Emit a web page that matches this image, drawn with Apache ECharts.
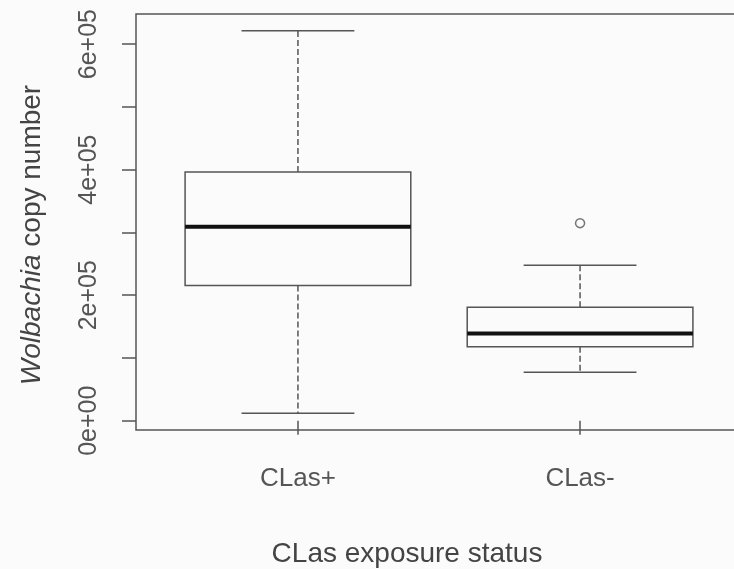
<!DOCTYPE html>
<html>
<head>
<meta charset="utf-8">
<script src="https://cdn.jsdelivr.net/npm/echarts@6/dist/echarts.min.js"></script>
<style>
  html, body { margin: 0; padding: 0; background: #fbfbfb; }
  #chart { width: 734px; height: 569px; }
</style>
</head>
<body>
<div id="chart"></div>
<script>
// groups and box statistics
var categories = ['CLas+', 'CLas-'];
var lowerWhisker = [11800, 77200];
var q1 = [215300, 118000];
var median = [308900, 138800];
var q3 = [396200, 180900];
var upperWhisker = [621500, 247800];
var outliers = [[], [314800]];
var yTicks = [0, 100000, 200000, 300000, 400000, 500000, 600000];
var yLabels = [0, 200000, 400000, 600000];

var boxData = categories.map(function (c, i) {
    return [i + 1, lowerWhisker[i], q1[i], median[i], q3[i], upperWhisker[i]];
});
var outlierData = [];
outliers.forEach(function (list, i) {
    list.forEach(function (v) { outlierData.push([i + 1, v]); });
});

function sci(v) {
    if (v === 0) return '0e+00';
    var e = Math.floor(Math.log10(Math.abs(v)));
    var m = Math.round(v / Math.pow(10, e));
    var ae = Math.abs(e);
    return m + 'e' + (e < 0 ? '-' : '+') + (ae < 10 ? '0' : '') + ae;
}

var gray = '#555';
var boxHalf = 0.4;     // boxwex 0.8
var stapleHalf = 0.2;

function renderBox(params, api) {
    var x = api.value(0);
    var lo = api.value(1), a = api.value(2), md = api.value(3), b = api.value(4), hi = api.value(5);
    function p(dx, y) { return api.coord([x + dx, y]); }
    var dash = { stroke: gray, lineWidth: 1.5, lineDash: [6, 3] };
    var solid = { stroke: gray, lineWidth: 1.5 };
    var tl = p(-boxHalf, b), br = p(boxHalf, a);
    return {
        type: 'group',
        children: [
            { type: 'line', shape: { x1: p(0, b)[0], y1: p(0, b)[1], x2: p(0, hi)[0], y2: p(0, hi)[1] }, style: dash },
            { type: 'line', shape: { x1: p(0, a)[0], y1: p(0, a)[1], x2: p(0, lo)[0], y2: p(0, lo)[1] }, style: dash },
            { type: 'line', shape: { x1: p(-stapleHalf, hi)[0], y1: p(0, hi)[1], x2: p(stapleHalf, hi)[0], y2: p(0, hi)[1] }, style: solid },
            { type: 'line', shape: { x1: p(-stapleHalf, lo)[0], y1: p(0, lo)[1], x2: p(stapleHalf, lo)[0], y2: p(0, lo)[1] }, style: solid },
            { type: 'rect', shape: { x: tl[0], y: tl[1], width: br[0] - tl[0], height: br[1] - tl[1] }, style: { fill: 'none', stroke: gray, lineWidth: 1.5 } },
            { type: 'line', shape: { x1: p(-boxHalf, md)[0], y1: p(0, md)[1], x2: p(boxHalf, md)[0], y2: p(0, md)[1] }, style: { stroke: '#111', lineWidth: 4 } }
        ]
    };
}

var chart = echarts.init(document.getElementById('chart'));
chart.setOption({
    backgroundColor: '#fbfbfb',
    animation: false,
    textStyle: { fontFamily: 'Liberation Sans, Arial, sans-serif' },
    grid: {
        left: 136, top: 14, width: 606, bottom: 139,
        outerBoundsMode: 'none',
        containLabel: false,
        show: true, borderColor: gray, borderWidth: 1.5, backgroundColor: 'transparent'
    },
    xAxis: {
        type: 'value',
        min: 0.426,
        max: 2.574,
        splitLine: { show: false },
        axisLine: { show: false },
        axisTick: { show: true, length: 14, customValues: [1, 2], lineStyle: { color: gray, width: 1.5 } },
        axisLabel: {
            customValues: [1, 2],
            margin: 36,
            fontSize: 26,
            color: '#555',
            formatter: function (v) { return categories[Math.round(v) - 1]; }
        },
        name: 'CLas exposure status',
        nameLocation: 'middle',
        nameGap: 110,
        nameTextStyle: { fontSize: 28, color: '#444', padding: [0, 64, 0, 0] }
    },
    yAxis: {
        type: 'value',
        min: -14800,
        max: 648000,
        splitLine: { show: false },
        axisLine: { show: false },
        axisTick: { show: true, length: 14, customValues: yTicks, lineStyle: { color: gray, width: 1.5 } },
        axisLabel: {
            customValues: yLabels,
            rotate: 90,
            margin: 34,
            fontSize: 25,
            color: '#555',
            formatter: sci
        },
        name: '{i|Wolbachia} copy number',
        nameLocation: 'middle',
        nameGap: 90,
        nameTextStyle: {
            fontSize: 28, color: '#444', padding: [0, 26, 0, 0],
            rich: { i: { fontSize: 28, color: '#444', fontStyle: 'italic' } }
        }
    },
    series: [
        {
            type: 'custom',
            renderItem: renderBox,
            data: boxData,
            encode: { x: 0, y: [1, 2, 3, 4, 5] },
            silent: true
        },
        {
            type: 'scatter',
            data: outlierData,
            symbol: 'circle',
            symbolSize: 9,
            itemStyle: { color: 'none', borderColor: gray, borderWidth: 1.5 },
            silent: true
        }
    ]
});
</script>
</body>
</html>
